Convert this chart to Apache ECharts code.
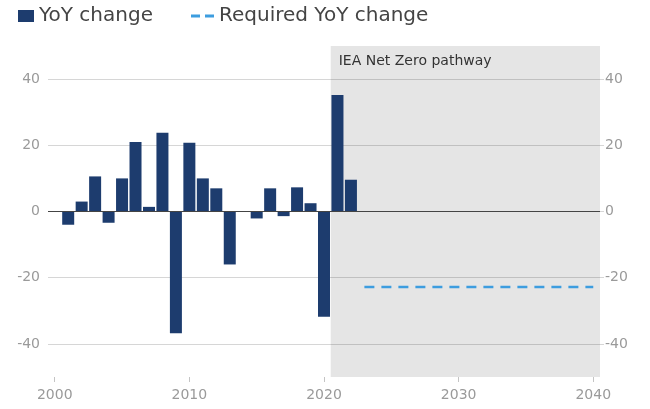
<!DOCTYPE html>
<html>
<head>
<meta charset="utf-8">
<script src="https://cdn.jsdelivr.net/npm/echarts@6/dist/echarts.min.js"></script>
<style>html,body{margin:0;padding:0;background:#fff}#c{width:650px;height:409px}</style>
</head>
<body>
<div id="c"></div>
<script>
const years = [2001,2002,2003,2004,2005,2006,2007,2008,2009,2010,2011,2012,2013,2014,2015,2016,2017,2018,2019,2020,2021,2022];
const yoyChange = [-4,3,10.6,-3.4,10,21,1.4,23.8,-36.8,20.8,10,7,-16,0,-2.1,7,-1.4,7.3,2.5,-31.8,35.2,9.6];
const requiredYears = [2023,2040];
const requiredValues = [-22.8,-22.8];
const pathwayRange = [2020.5,2040.5];
const xTickValues = [2000,2010,2020,2030,2040];

const FONT = 'DejaVu Sans';
const chart = echarts.init(document.getElementById('c'), null, {renderer:'canvas'});
const barData = years.map((y,i)=>[y,yoyChange[i]]);
const lineData = requiredYears.map((y,i)=>[y,requiredValues[i]]);

chart.setOption({
  animation:false,
  textStyle:{fontFamily:FONT},
  legend:[
    {left:13, top:1, itemWidth:16, itemHeight:12, itemGap:9,
     textStyle:{fontFamily:FONT,fontSize:20,color:'#444'},
     data:[{name:'YoY change', icon:'rect'}]},
    {left:186, top:1, itemWidth:23, itemHeight:3, itemGap:10,
     textStyle:{fontFamily:FONT,fontSize:20,color:'#444'},
     data:[{name:'Required YoY change', icon:'path://M0,0h9v3h-9z M14,0h9v3h-9z'}]}
  ],
  grid:{left:48,right:50,top:46,bottom:32},
  xAxis:{
    type:'value', min:1999.5, max:2040.5,
    axisLine:{show:false, onZero:false},
    axisTick:{show:true, customValues:xTickValues, length:5, lineStyle:{color:'#c4c4c4'}},
    axisLabel:{customValues:xTickValues, color:'#9a9a9a', fontSize:14, margin:11, fontFamily:FONT,
      formatter:(v)=>String(v)},
    splitLine:{show:false}
  },
  yAxis:[
    {type:'value', min:-50, max:50, splitNumber:5, position:'left',
     axisLine:{show:false}, axisTick:{show:false},
     axisLabel:{showMinLabel:false, showMaxLabel:false, color:'#9a9a9a', fontSize:14, margin:8, fontFamily:FONT},
     splitLine:{show:true, showMinLine:false, showMaxLine:false, lineStyle:{color:'#d6d6d6', width:1}}},
    {type:'value', min:-50, max:50, splitNumber:5, position:'right',
     axisLine:{show:false}, axisTick:{show:true, length:4, lineStyle:{color:'#d6d6d6'}},
     axisLabel:{showMinLabel:false, showMaxLabel:false, color:'#9a9a9a', fontSize:14, margin:5, fontFamily:FONT},
     splitLine:{show:false}}
  ],
  series:[
    {name:'YoY change', type:'bar', data:barData, barWidth:12,
     itemStyle:{color:'#1d3c6e'}, z:3,
     markArea:{silent:true, itemStyle:{color:'rgba(0,0,0,0.1)'},
       label:{show:true, position:'insideTopLeft', distance:8, color:'#333', fontSize:14, fontFamily:FONT},
       data:[[{name:'IEA Net Zero pathway', xAxis:pathwayRange[0]},{xAxis:pathwayRange[1]}]]},
     markLine:{silent:true, symbol:['none','none'], label:{show:false},
       lineStyle:{color:'#444', type:'solid', width:1},
       data:[{yAxis:0}]}},
    {name:'Required YoY change', type:'line', data:lineData, symbol:'none', z:4,
     lineStyle:{color:'#3d9ddf', width:2.5, type:[10,7]}, itemStyle:{color:'#3d9ddf'}}
  ]
});
</script>
</body>
</html>
